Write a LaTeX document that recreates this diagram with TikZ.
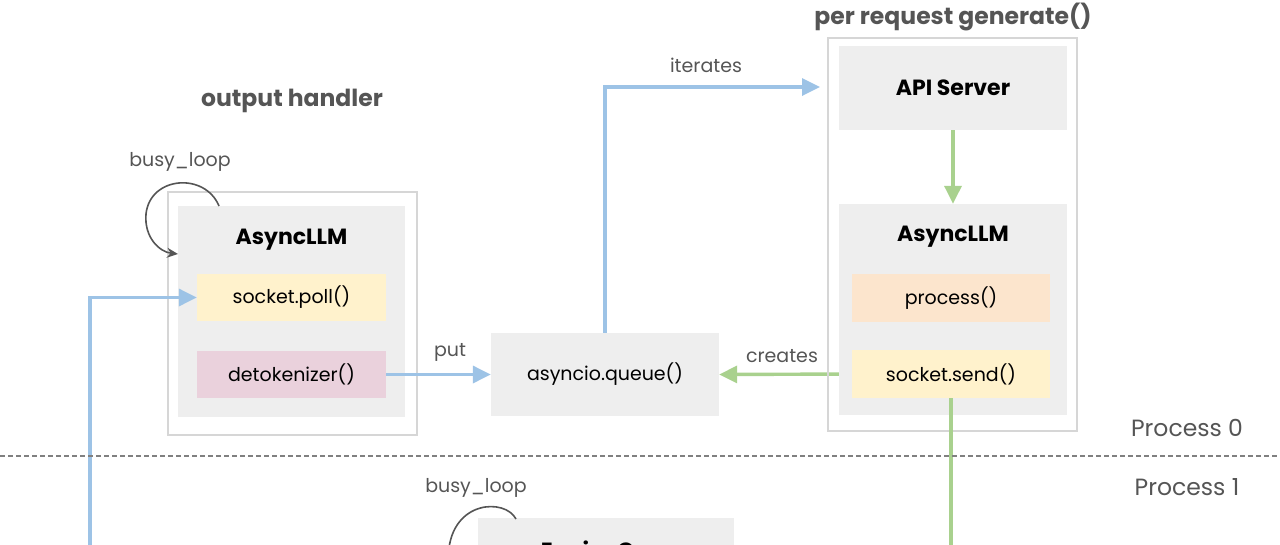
\documentclass[tikz,border=0pt]{standalone}
\usepackage{fontspec}
\setmainfont{Poppins}
\usetikzlibrary{arrows.meta,backgrounds}
\definecolor{boxgray}{HTML}{EEEEEE}
\definecolor{edgegray}{HTML}{D6D6D6}
\definecolor{lblue}{HTML}{9DC3E6}
\definecolor{lgreen}{HTML}{A9D18E}
\definecolor{yel}{HTML}{FFF2CC}
\definecolor{pink}{HTML}{EAD1DC}
\definecolor{peach}{HTML}{FCE5CD}
\definecolor{txtgray}{HTML}{555555}
\tikzset{
  outerbox/.style={draw=edgegray, line width=1.2pt, inner sep=0pt},
  graybox/.style={fill=boxgray, inner sep=0pt},
  subbox/.style={inner sep=0pt, font=\fontsize{19}{22}\selectfont},
  title/.style={font=\bfseries\fontsize{22}{26}\selectfont},
  head/.style={font=\bfseries\fontsize{23.5}{28}\selectfont, text=txtgray},
  lbl/.style={font=\fontsize{19}{22}\selectfont, text=txtgray},
  proc/.style={font=\fontsize{23.5}{28}\selectfont, text=txtgray},
  bluearr/.style={draw=lblue, line width=3.4pt, -{Triangle[width=17pt,length=18pt]}},
  greenarr/.style={draw=lgreen, line width=3.4pt, -{Triangle[width=17pt,length=18pt]}},
  greenline/.style={draw=lgreen, line width=3.4pt},
  loop/.style={draw=txtgray, line width=1.6pt, -{Stealth[length=11pt,width=10pt]}},
}
\begin{document}
\begin{tikzpicture}[x=1pt,y=-1pt]
\useasboundingbox (0,0) rectangle (1280,544);
\clip (0,0) rectangle (1280,544);
% titles
\node[head] (oh) at (292,101) {output handler};
\node[head] (prg) at (953,17) {per request generate()};
% left group
\node[outerbox, minimum width=249pt, minimum height=243pt] (lout) at (292.5,313.5) {};
\node[graybox, minimum width=227pt, minimum height=211pt] (lin) at (291.5,311.5) {};
\node[title] (lt) at (291.5,240) {AsyncLLM};
\node[subbox, fill=yel, minimum width=189pt, minimum height=47pt] (poll) at (291.5,297.5) {socket.poll()};
\node[subbox, fill=pink, minimum width=189pt, minimum height=47pt] (detok) at (291.5,374.5) {detokenizer()};
% queue
\node[graybox, subbox, minimum width=228pt, minimum height=83pt] (queue) at (605,374.5) {asyncio.queue()};
% right group
\node[outerbox, minimum width=249pt, minimum height=393pt] (rout) at (952.5,234.5) {};
\node[graybox, minimum width=228pt, minimum height=84pt] (api) at (953,88) {};
\node[title] at (api) {API Server};
\node[graybox, minimum width=228pt, minimum height=211pt] (rin) at (953,309.5) {};
\node[title] (rt) at (953,237) {AsyncLLM};
\node[subbox, fill=peach, minimum width=198pt, minimum height=48pt] (procn) at (951,298) {process()};
\node[subbox, fill=yel, minimum width=198pt, minimum height=48pt] (send) at (951,374) {socket.send()};
% engine core
\node[graybox, minimum width=256pt, minimum height=80pt] (eng) at (606,558) {};
\node[title] at (606,553) {EngineCore};
% coordinates
\coordinate (b0) at (90,560);
\coordinate (it) at (820,87);
\coordinate (g0) at (951,560);
\coordinate (l1s) at (219,206);
\coordinate (l1e) at (178,254);
\coordinate (l2s) at (516,519);
\coordinate (l2e) at (448,560);
% connectors
\begin{scope}[on background layer]
\draw[greenarr] (send.west) -- (queue.east);
\end{scope}
\draw[bluearr] (b0) |- (poll.west);
\draw[bluearr] (detok.east) -- (queue.west);
\draw[bluearr] (queue.north) |- (it);
\draw[greenarr] (api.south) -- (rin.north);
\draw[greenline] (send.south) -- (g0);
\node[lbl] (putl) at (450,352) {put};
\node[lbl] (crl) at (782,356) {creates};
\node[lbl] (itl) at (706,65) {iterates};
% loops
\draw[loop] (l1s) .. controls (205,172) and (150,176) .. (146,214) .. controls (144,238) and (160,252) .. (l1e);
\draw[loop] (l2s) .. controls (505,498) and (452,500) .. (l2e);
\node[lbl] (bl1) at (180,162) {busy\_loop};
\node[lbl] (bl2) at (476,488) {busy\_loop};
% process divider
\coordinate (d0) at (0,456);
\coordinate (d1) at (1280,456);
\draw[draw=gray, line width=1.3pt, dash pattern=on 5pt off 3pt] (d0) -- (d1);
\node[proc] (p0) at (1187,428) {Process 0};
\node[proc] (p1) at (1187,487) {Process 1};
\end{tikzpicture}
\end{document}
